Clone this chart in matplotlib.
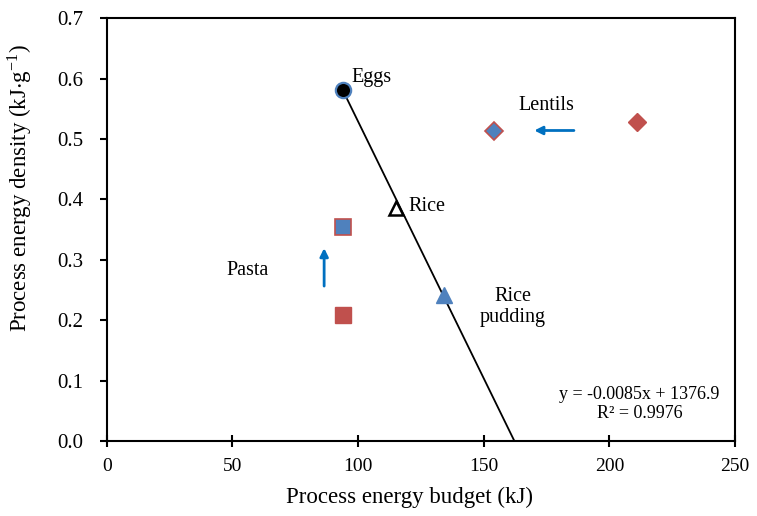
import numpy as np
import matplotlib
matplotlib.use("Agg")
import matplotlib.pyplot as plt

plt.rcParams['font.family'] = ['Liberation Serif', 'DejaVu Serif']
plt.rcParams['mathtext.fontset'] = 'stix'

# data
eggs = (94, 0.581)
rice = (115, 0.386)
rice_pudding = (134, 0.242)
pasta_x = [94, 94]
pasta_y = [0.209, 0.354]      # before, after
lentils_x = [211, 154]
lentils_y = [0.528, 0.513]    # before, after

# trend line
slope = -0.0085
intercept = 1.379
line_x = np.array([eggs[0], -intercept / slope])

blue = '#4F81BD'
red = '#C0504D'
arrow_blue = '#0070C0'

fig = plt.figure(figsize=(7.57, 5.16), dpi=100)
ax = fig.add_axes([0.141, 0.145, 0.830, 0.820])

ax.plot(line_x, slope * line_x + intercept, color='black', lw=1.3, zorder=2)

# eggs
ax.plot(*eggs, marker='o', ms=11, mfc='black', mec=blue, mew=1.6, ls='none', zorder=3)
# rice
ax.plot(*rice, marker='^', ms=10, mfc='white', mec='black', mew=1.8, ls='none', zorder=3)
# rice pudding
ax.plot(*rice_pudding, marker='^', ms=11, mfc=blue, mec=blue, ls='none', zorder=3)
# pasta
ax.plot(pasta_x[0], pasta_y[0], marker='s', ms=11, mfc=red, mec=red, ls='none', zorder=3)
ax.plot(pasta_x[1], pasta_y[1], marker='s', ms=11, mfc=blue, mec=red, mew=1.2, ls='none', zorder=3)
# lentils
ax.plot(lentils_x[0], lentils_y[0], marker='D', ms=9, mfc=red, mec=red, ls='none', zorder=3)
ax.plot(lentils_x[1], lentils_y[1], marker='D', ms=9, mfc=blue, mec=red, mew=1.2, ls='none', zorder=3)

# arrows
ax.annotate('', xy=(86.5, 0.324), xytext=(86.5, 0.252),
            arrowprops=dict(arrowstyle='-|>', color=arrow_blue, lw=2, mutation_scale=12))
ax.annotate('', xy=(169, 0.514), xytext=(187, 0.514),
            arrowprops=dict(arrowstyle='-|>', color=arrow_blue, lw=2, mutation_scale=12))

fs = 14.5
ax.text(97.5, 0.601, 'Eggs', fontsize=fs, ha='left', va='center')
ax.text(175, 0.556, 'Lentils', fontsize=fs, ha='center', va='center')
ax.text(120, 0.388, 'Rice', fontsize=fs, ha='left', va='center')
ax.text(56, 0.283, 'Pasta', fontsize=fs, ha='center', va='center')
ax.text(161.5, 0.222, 'Rice\npudding', fontsize=fs, ha='center', va='center', linespacing=1.2)
ax.text(212, 0.061, 'y = -0.0085x + 1376.9\nR² = 0.9976', fontsize=13, ha='center', va='center',
        linespacing=1.15)

ax.set_xlim(0, 250)
ax.set_ylim(0, 0.7)
ax.set_xticks(np.arange(0, 251, 50))
ax.set_yticks(np.arange(0, 0.71, 0.1))
ax.yaxis.set_major_formatter(matplotlib.ticker.FormatStrFormatter('%.1f'))
ax.tick_params(axis='x', direction='inout', length=8, width=1.5, labelsize=14, pad=8)
ax.tick_params(axis='y', direction='out', length=5, width=1.5, labelsize=15, pad=12)
for s in ax.spines.values():
    s.set_linewidth(1.5)

ax.set_xlabel('Process energy budget (kJ)', fontsize=16.5)
ax.set_ylabel(r'Process energy density (kJ$\cdot$g$^{\mathregular{-1}}$)', fontsize=16.5)
ax.xaxis.set_label_coords(0.482, -0.108, transform=ax.transAxes)
ax.yaxis.set_label_coords(-0.116, 0.598, transform=ax.transAxes)

fig.savefig('out.png', dpi=100)
